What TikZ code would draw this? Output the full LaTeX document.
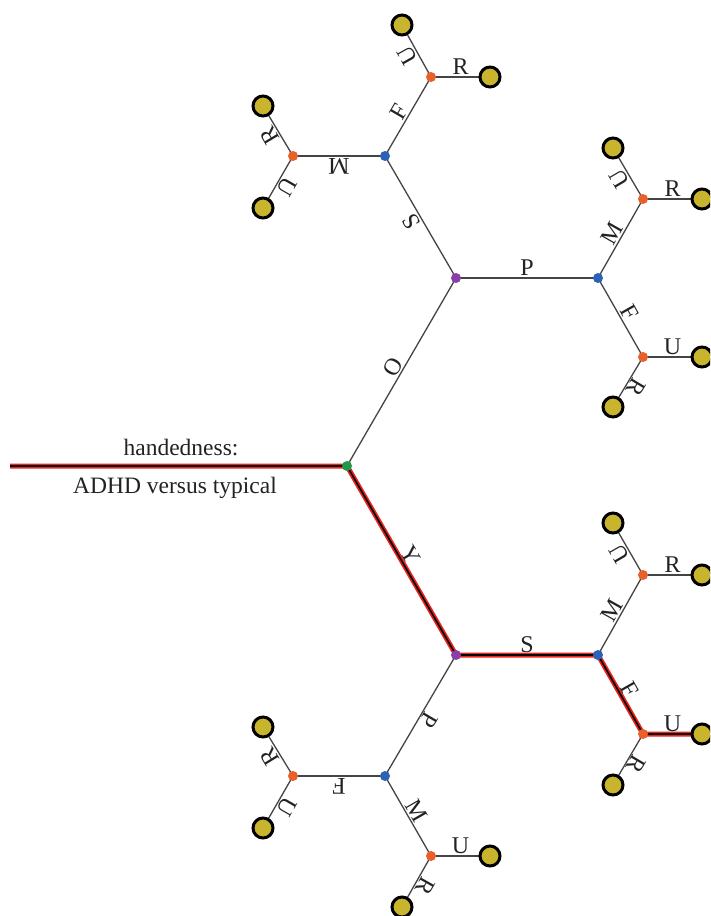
\documentclass[tikz,border=0pt]{standalone}
\usepackage{fontspec}
\setmainfont{Liberation Serif}
\definecolor{dgreen}{HTML}{1E9A4A}
\definecolor{dpurple}{HTML}{8A3FA8}
\definecolor{dblue}{HTML}{2A62B8}
\definecolor{dorange}{HTML}{E8602A}
\definecolor{leafy}{HTML}{C9B52D}
\definecolor{edgegray}{HTML}{444444}
\definecolor{txt}{HTML}{222222}
\definecolor{hlred}{HTML}{E8231E}
\begin{document}
\begin{tikzpicture}[x=1pt,y=-1pt,
  edge/.style={draw=edgegray, line width=1.3pt},
  hl/.style={draw=black, line width=1.6pt, line join=round,
    preaction={draw=hlred, line width=5pt, line join=round}},
  lab/.style={midway, sloped, allow upside down, above, inner sep=1.5pt,
    text=txt, font=\fontsize{24}{28}\selectfont},
  dot/.style={circle, inner sep=0pt, minimum size=10pt, draw=none},
  leaf/.style={circle, inner sep=0pt, minimum size=20pt, draw=black,
    line width=3pt, fill=leafy},
  captext/.style={anchor=base, text=txt, font=\fontsize{23.5}{28}\selectfont}]
\useasboundingbox (0,0) rectangle (710,916);
\clip (0,0) rectangle (710,916);
% coordinates
\coordinate (start) at (10,466);
\coordinate (root) at (347,466);
\coordinate (pu) at (456,278);
\coordinate (pl) at (456,655);
\coordinate (bUL) at (385,156);
\coordinate (bUR) at (598,278);
\coordinate (bLR) at (598,655);
\coordinate (bLL) at (385,776);
\coordinate (oUL1) at (431,77);
\coordinate (oUL2) at (293,156);
\coordinate (oUR1) at (643,199);
\coordinate (oUR2) at (643,357);
\coordinate (oLR1) at (643,575);
\coordinate (oLR2) at (643,734);
\coordinate (oLL1) at (293,776);
\coordinate (oLL2) at (431,856);
\coordinate (lUL1a) at (402,25);
\coordinate (lUL1b) at (490,77);
\coordinate (lUL2a) at (263,106);
\coordinate (lUL2b) at (263,208);
\coordinate (lUR1a) at (613,148);
\coordinate (lUR1b) at (702,199);
\coordinate (lUR2a) at (702,357);
\coordinate (lUR2b) at (613,407);
\coordinate (lLR1a) at (613,523);
\coordinate (lLR1b) at (702,575);
\coordinate (lLR2a) at (702,734);
\coordinate (lLR2b) at (613,785);
\coordinate (lLL1a) at (263,727);
\coordinate (lLL1b) at (263,828);
\coordinate (lLL2a) at (490,856);
\coordinate (lLL2b) at (402,907);
% plain edges
\draw[edge] (root) -- node[lab]{O} (pu);
\draw[edge] (pu) -- node[lab]{S} (bUL);
\draw[edge] (pu) -- node[lab]{P} (bUR);
\draw[edge] (bUL) -- node[lab]{F} (oUL1);
\draw[edge] (bUL) -- node[lab]{M} (oUL2);
\draw[edge] (oUL1) -- node[lab]{U} (lUL1a);
\draw[edge] (oUL1) -- node[lab]{R} (lUL1b);
\draw[edge] (oUL2) -- node[lab]{R} (lUL2a);
\draw[edge] (oUL2) -- node[lab]{U} (lUL2b);
\draw[edge] (bUR) -- node[lab]{M} (oUR1);
\draw[edge] (bUR) -- node[lab]{F} (oUR2);
\draw[edge] (oUR1) -- node[lab]{U} (lUR1a);
\draw[edge] (oUR1) -- node[lab]{R} (lUR1b);
\draw[edge] (oUR2) -- node[lab]{U} (lUR2a);
\draw[edge] (oUR2) -- node[lab]{R} (lUR2b);
\draw[edge] (bLR) -- node[lab]{M} (oLR1);
\draw[edge] (oLR1) -- node[lab]{U} (lLR1a);
\draw[edge] (oLR1) -- node[lab]{R} (lLR1b);
\draw[edge] (oLR2) -- node[lab]{R} (lLR2b);
\draw[edge] (pl) -- node[lab]{P} (bLL);
\draw[edge] (bLL) -- node[lab]{F} (oLL1);
\draw[edge] (bLL) -- node[lab]{M} (oLL2);
\draw[edge] (oLL1) -- node[lab]{R} (lLL1a);
\draw[edge] (oLL1) -- node[lab]{U} (lLL1b);
\draw[edge] (oLL2) -- node[lab]{U} (lLL2a);
\draw[edge] (oLL2) -- node[lab]{R} (lLL2b);
% highlighted path
\draw[hl] (start) -- (root) -- node[lab]{Y} (pl) -- node[lab]{S} (bLR)
  -- node[lab]{F} (oLR2) -- node[lab]{U} (lLR2a);
% caption
\node[captext] (t1) at (181,455) {handedness:};
\node[captext] (t2) at (175,493) {ADHD versus typical};
% dots
\node[dot, fill=dgreen] (nroot) at (root) {};
\foreach \p in {pu,pl} \node[dot, fill=dpurple] (n\p) at (\p) {};
\foreach \p in {bUL,bUR,bLR,bLL} \node[dot, fill=dblue] (n\p) at (\p) {};
\foreach \p in {oUL1,oUL2,oUR1,oUR2,oLR1,oLR2,oLL1,oLL2}
  \node[dot, fill=dorange] (n\p) at (\p) {};
\foreach \p in {lUL1a,lUL1b,lUL2a,lUL2b,lUR1a,lUR1b,lUR2a,lUR2b,
  lLR1a,lLR1b,lLR2a,lLR2b,lLL1a,lLL1b,lLL2a,lLL2b}
  \node[leaf] (n\p) at (\p) {};
\end{tikzpicture}
\end{document}
